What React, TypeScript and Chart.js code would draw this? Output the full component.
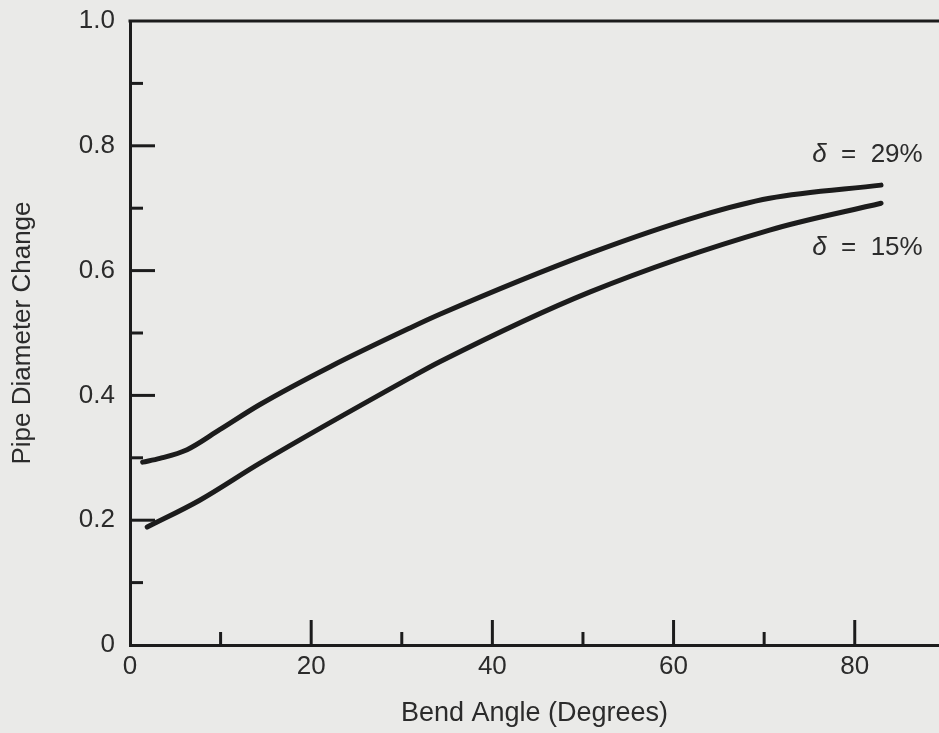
import React, { useEffect, useRef } from "react";
import { Chart, registerables } from "chart.js";

Chart.register(...registerables);

// Series (bend angle in degrees -> pipe diameter change)
const angle29 = [1.4, 3.3, 6.3, 9.9, 14.3, 22.1, 30.9, 34.2, 50.8, 63.2, 70.6, 82.9];
const change29 = [0.293, 0.299, 0.313, 0.345, 0.385, 0.446, 0.508, 0.53, 0.628, 0.689, 0.716, 0.737];
const angle15 = [1.9, 7.7, 14.3, 30.9, 34.2, 50.8, 70.6, 82.9];
const change15 = [0.189, 0.232, 0.291, 0.428, 0.454, 0.566, 0.665, 0.708];

const seriesLabels = ["δ = 29%", "δ = 15%"];

const xMajorTicks = [0, 20, 40, 60, 80];
const xTickLabels = ["0", "20", "40", "60", "80"];
const xMinorTicks = [10, 30, 50, 70];
const yMajorTicks = [0, 0.2, 0.4, 0.6, 0.8, 1.0];
const yTickLabels = ["0", "0.2", "0.4", "0.6", "0.8", "1.0"];
const yMinorTicks = [0.1, 0.3, 0.5, 0.7, 0.9];

const xTitle = "Bend Angle (Degrees)";
const yTitle = "Pipe Diameter Change";

// curve annotations, anchored in data coordinates (right edge, vertical centre)
const curveLabelX = [87.5, 87.5];
const curveLabelY = [0.786, 0.637];

const FONT = "'Liberation Sans', Arial, Helvetica, sans-serif";
const INK = "#1c1c1c";
const TEXT = "#2b2b2b";
const BG = "#eaeae8";

const inwardTicks = {
  id: "inwardTicks",
  afterDatasetsDraw(chart: any) {
    const { ctx, chartArea, scales } = chart;
    const x = scales.x;
    const y = scales.y;
    const { left, right, bottom } = chartArea;
    ctx.save();
    ctx.strokeStyle = INK;
    ctx.lineWidth = 3;
    ctx.lineCap = "butt";
    const seg = (x1: number, y1: number, x2: number, y2: number) => {
      ctx.beginPath();
      ctx.moveTo(x1, y1);
      ctx.lineTo(x2, y2);
      ctx.stroke();
    };
    xMajorTicks.forEach((v) => {
      if (v === 0) return;
      const px = x.getPixelForValue(v);
      seg(px, bottom, px, bottom - 25);
    });
    xMinorTicks.forEach((v) => {
      const px = x.getPixelForValue(v);
      seg(px, bottom, px, bottom - 13);
    });
    yMajorTicks.forEach((v) => {
      if (v === 0 || v === 1) return;
      const py = y.getPixelForValue(v);
      seg(left, py, left + 25, py);
    });
    yMinorTicks.forEach((v) => {
      const py = y.getPixelForValue(v);
      seg(left, py, left + 13, py);
    });
    // top frame line at 1.0
    const top = y.getPixelForValue(1);
    seg(left - 1.5, top, right, top);

    // curve labels
    ctx.fillStyle = TEXT;
    ctx.textBaseline = "middle";
    seriesLabels.forEach((label, i) => {
      const px = x.getPixelForValue(curveLabelX[i]);
      const py = y.getPixelForValue(curveLabelY[i]);
      const sym = label.slice(0, 1);
      const rest = label.slice(1).replace(/ /g, "  ");
      ctx.font = `italic 26px ${FONT}`;
      const wSym = ctx.measureText(sym).width;
      ctx.font = `26px ${FONT}`;
      const wRest = ctx.measureText(rest).width;
      const start = px - wSym - wRest;
      ctx.font = `italic 26px ${FONT}`;
      ctx.textAlign = "left";
      ctx.fillText(sym, start, py);
      ctx.font = `26px ${FONT}`;
      ctx.fillText(rest, start + wSym, py);
    });
    ctx.restore();
  },
};

export default function App() {
  const ref = useRef<HTMLCanvasElement | null>(null);

  useEffect(() => {
    document.body.style.background = BG;
    const canvas = ref.current;
    if (!canvas) return;
    const lineStyle = {
      borderColor: INK,
      borderWidth: 5,
      pointRadius: 0,
      cubicInterpolationMode: "monotone",
      borderCapStyle: "round",
      fill: false,
    };
    const chart = new Chart(canvas, {
      type: "line",
      data: {
        datasets: [
          {
            label: seriesLabels[0],
            data: angle29.map((a, i) => ({ x: a, y: change29[i] })),
            ...lineStyle,
          },
          {
            label: seriesLabels[1],
            data: angle15.map((a, i) => ({ x: a, y: change15[i] })),
            ...lineStyle,
          },
        ],
      },
      options: {
        responsive: false,
        animation: false,
        layout: { padding: { top: 21, right: 0, bottom: 0, left: 0 } },
        plugins: {
          legend: { display: false },
          tooltip: { enabled: false },
        },
        scales: {
          x: {
            type: "linear",
            min: 0,
            max: 89.3,
            afterBuildTicks: (s: any) => {
              s.ticks = xMajorTicks.map((v) => ({ value: v }));
            },
            afterFit: (s: any) => {
              s.height = 88;
              s.paddingLeft = 0;
              s.paddingRight = 0;
            },
            grid: { display: false, drawTicks: false },
            border: { display: true, color: INK, width: 3 },
            ticks: {
              font: { family: FONT, size: 26 },
              color: TEXT,
              padding: 6,
              maxRotation: 0,
              autoSkip: false,
              callback: (_v: any, i: number) => xTickLabels[i],
            },
            title: {
              display: true,
              text: xTitle,
              color: TEXT,
              font: { family: FONT, size: 27 },
              padding: { top: 0, bottom: 3 },
            },
          },
          y: {
            type: "linear",
            min: 0,
            max: 1,
            afterBuildTicks: (s: any) => {
              s.ticks = yMajorTicks.map((v) => ({ value: v }));
            },
            afterFit: (s: any) => {
              s.width = 130;
              s.paddingTop = 0;
              s.paddingBottom = 0;
            },
            grid: { display: false, drawTicks: false },
            border: { display: true, color: INK, width: 3 },
            ticks: {
              font: { family: FONT, size: 26 },
              color: TEXT,
              padding: 15,
              autoSkip: false,
              callback: (_v: any, i: number) => yTickLabels[i],
            },
            title: {
              display: true,
              text: yTitle,
              color: TEXT,
              font: { family: FONT, size: 26 },
              padding: { top: 7, bottom: 0 },
            },
          },
        },
      },
      plugins: [inwardTicks],
    } as any);
    return () => chart.destroy();
  }, []);

  return (
    <div
      style={{
        position: "absolute",
        left: 0,
        top: 0,
        width: 939,
        height: 733,
        background: BG,
      }}
    >
      <canvas ref={ref} width={939} height={733} style={{ display: "block", width: 939, height: 733 }} />
    </div>
  );
}
